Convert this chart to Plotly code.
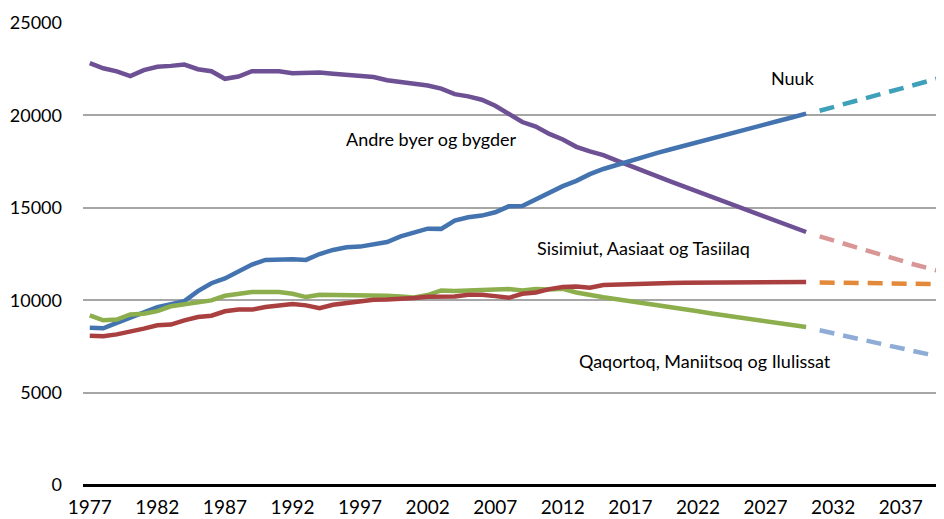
import plotly.graph_objects as go

years = list(range(1977, 2031))
proj_years = list(range(2031, 2041))

nuuk = [8510, 8480, 8770, 9050, 9340, 9630, 9790, 9950, 10490, 10920,
        11180, 11570, 11930, 12180, 12220, 12220, 12180, 12500, 12720, 12860,
        12900, 13000, 13150, 13450, 13650, 13870, 13860, 14310, 14490, 14580,
        14760, 15080, 15100, 15450, 15840, 16170, 16460, 16820, 17100, 17330,
        17570, 17770, 17970, 18170, 18370, 18560, 18760, 18950, 19140, 19330,
        19520, 19710, 19900, 20100]
andre = [22830, 22550, 22380, 22130, 22450, 22630, 22680, 22750, 22500, 22390,
         21980, 22100, 22390, 22410, 22390, 22280, 22280, 22320, 22250, 22200,
         22150, 22080, 21900, 21800, 21720, 21620, 21450, 21150, 21030, 20850,
         20520, 20050, 19640, 19400, 19000, 18700, 18300, 18050, 17850, 17550,
         17250, 16970, 16700, 16420, 16150, 15880, 15600, 15330, 15060, 14780,
         14510, 14240, 13960, 13690]
sisimiut = [8080, 8050, 8150, 8280, 8460, 8640, 8680, 8910, 9090, 9160,
            9400, 9500, 9490, 9630, 9720, 9790, 9720, 9570, 9750, 9850,
            9920, 10020, 10040, 10050, 10120, 10180, 10200, 10200, 10300, 10300,
            10220, 10130, 10350, 10420, 10600, 10710, 10740, 10670, 10820, 10850,
            10880, 10900, 10920, 10930, 10940, 10950, 10960, 10970, 10970, 10980,
            10980, 10980, 10980, 10980]
qaqortoq = [9180, 8910, 8950, 9230, 9270, 9410, 9670, 9790, 9850, 9990,
            10240, 10350, 10440, 10450, 10440, 10350, 10170, 10290, 10280, 10270,
            10280, 10300, 10240, 10200, 10150, 10280, 10530, 10500, 10520, 10560,
            10600, 10600, 10530, 10600, 10580, 10620, 10420, 10270, 10160, 10050,
            9950, 9840, 9730, 9620, 9510, 9400, 9280, 9170, 9060, 8950,
            8840, 8730, 8640, 8550]

nuuk_proj = [20250, 20450, 20650, 20850, 21050, 21250, 21450, 21650, 21850, 22050]
andre_proj = [13450, 13230, 13000, 12770, 12550, 12340, 12130, 11930, 11740, 11550]
sisimiut_proj = [10960, 10950, 10940, 10930, 10920, 10910, 10900, 10890, 10880, 10870]
qaqortoq_proj = [8370, 8200, 8040, 7880, 7720, 7560, 7400, 7240, 7080, 6930]

x_ticks = [1977, 1982, 1987, 1992, 1997, 2002, 2007, 2012, 2017, 2022, 2027, 2032, 2037]
y_ticks = [0, 5000, 10000, 15000, 20000, 25000]

font = "Lato, Open Sans, sans-serif"

fig = go.Figure()

solid = [
    (andre, "#6E5195"),
    (nuuk, "#4374AF"),
    (qaqortoq, "#8DAE4C"),
    (sisimiut, "#A93F3F"),
]
for vals, col in solid:
    fig.add_trace(go.Scatter(x=years, y=vals, mode="lines",
                             line=dict(color=col, width=4.5)))

dashed = [
    (nuuk_proj, "#3FA0BA"),
    (andre_proj, "#D99696"),
    (sisimiut_proj, "#E3893A"),
    (qaqortoq_proj, "#8EACD6"),
]
for vals, col in dashed:
    fig.add_trace(go.Scatter(x=proj_years, y=vals, mode="lines",
                             line=dict(color=col, width=4.5, dash="15px,9px")))

labels = [
    ("Nuuk", 2029.0, 22030),
    ("Andre byer og bygder", 2002.3, 18700),
    ("Sisimiut, Aasiaat og Tasiilaq", 2018.0, 12800),
    ("Qaqortoq, Maniitsoq og Ilulissat", 2022.5, 6700),
]
for txt, xv, yv in labels:
    fig.add_annotation(x=xv, y=yv, text=txt, showarrow=False,
                       font=dict(size=18, color="black", family=font))

# page body has an 8px margin, so the figure is sized to fit the window
fig.update_layout(
    width=936, height=511,
    margin=dict(l=75, r=0, t=15, b=34),
    plot_bgcolor="white", paper_bgcolor="white",
    showlegend=False,
    font=dict(family=font, size=18, color="black"),
    xaxis=dict(range=[1976.5, 2040.2], tickvals=x_ticks, showgrid=False,
               zeroline=False, showline=False, ticks="", automargin=False,
               ticklabelstandoff=9, tickfont=dict(size=19)),
    yaxis=dict(range=[0, 25000], tickvals=y_ticks, tickformat="d",
               showgrid=True, gridcolor="#A6A6A6", gridwidth=1.5,
               zeroline=True, zerolinecolor="black", zerolinewidth=2.5,
               ticks="", automargin=False, ticklabelstandoff=20,
               tickfont=dict(size=18)),
)

fig.write_html("out.html")
